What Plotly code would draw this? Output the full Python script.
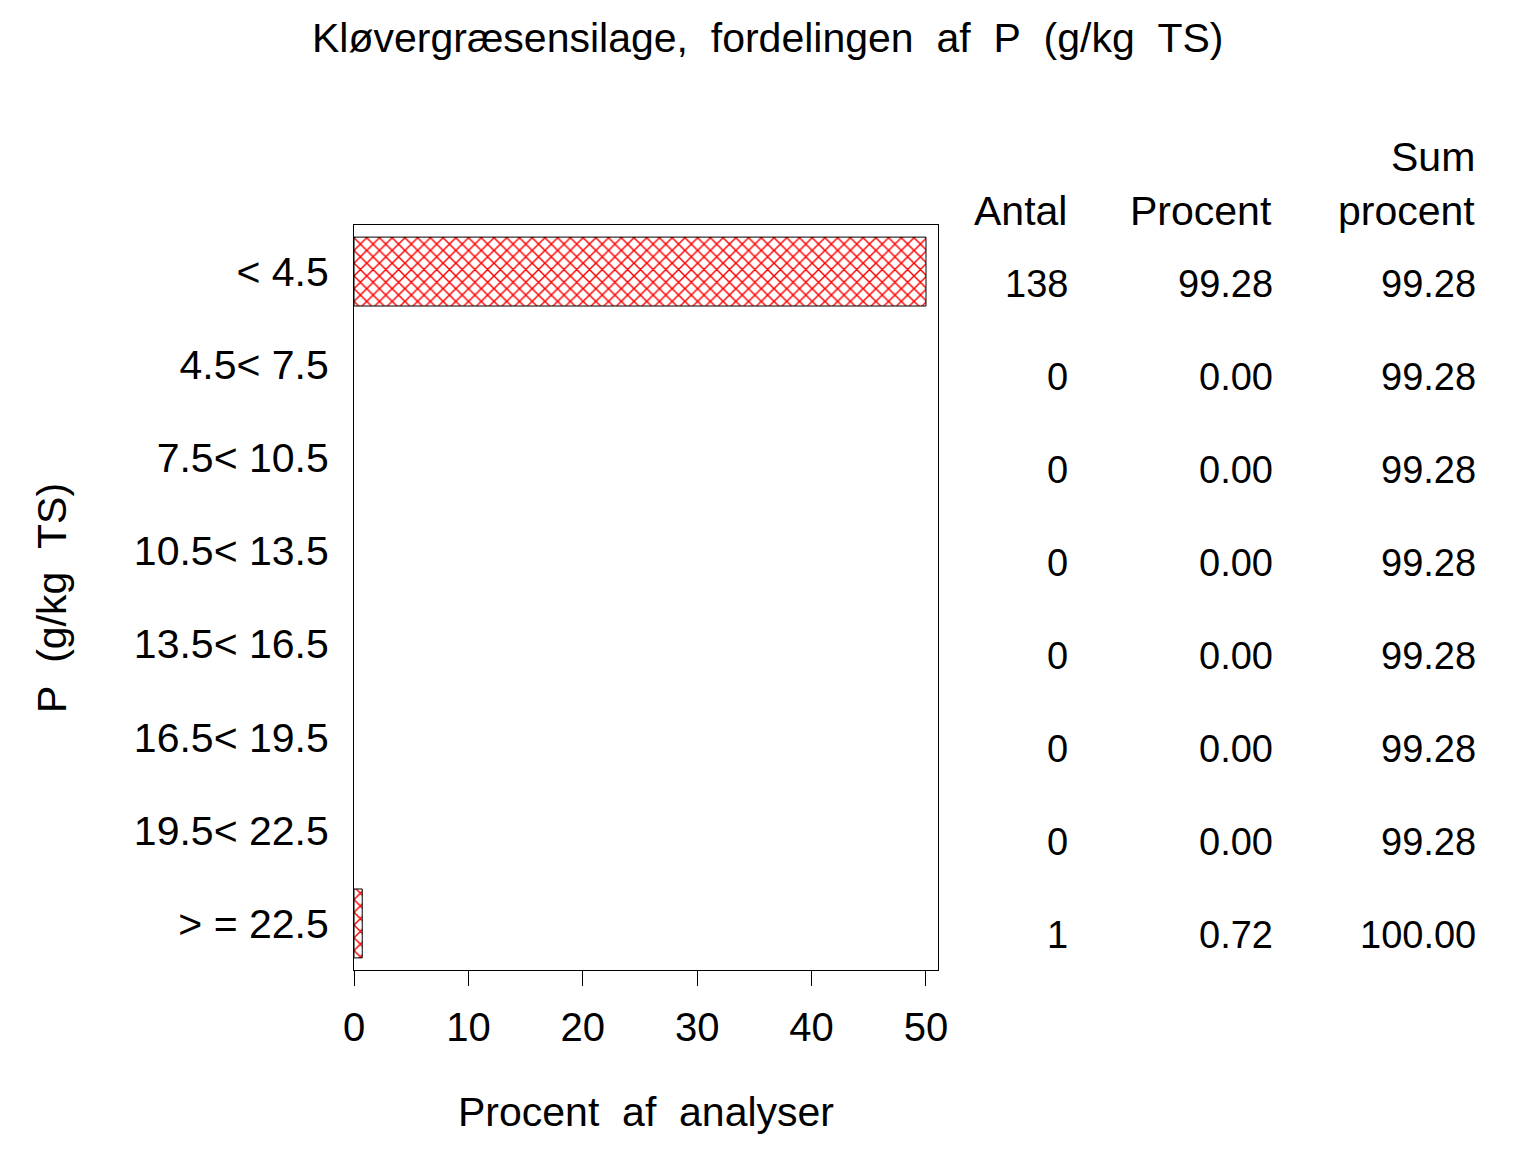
import numpy as np
import plotly.graph_objects as go

categories = ["< 4.5", "4.5< 7.5", "7.5< 10.5", "10.5< 13.5", "13.5< 16.5",
              "16.5< 19.5", "19.5< 22.5", "> = 22.5"]
antal = [138, 0, 0, 0, 0, 0, 0, 1]
procent = [99.28, 0.00, 0.00, 0.00, 0.00, 0.00, 0.00, 0.72]
sum_procent = [99.28, 99.28, 99.28, 99.28, 99.28, 99.28, 99.28, 100.00]
x_ticks = [0, 10, 20, 30, 40, 50]
x_max = 50

FONT = "Liberation Sans, Arial, sans-serif"
FS_NUM = 38
FS_TXT = 41

bar_len = np.minimum(np.array(procent), x_max)
line_w = [1 if v > 0 else 0 for v in procent]

fig = go.Figure()
fig.add_trace(go.Bar(
    y=categories, x=bar_len, orientation="h", width=0.74,
    marker=dict(color="white", line=dict(color="black", width=line_w),
                pattern=dict(shape="x", fgcolor="red", bgcolor="white",
                             size=9, solidity=0.3, fgopacity=1)),
    hoverinfo="skip", showlegend=False,
))

# reference plot area in pixels; page has an 8px offset
OFF = 8
L, R, T, B = 354, 938, 225, 970
W, H = R - L, B - T

def px_x(p):
    return (p - L) / W

def px_y(p):
    return (B - p) / H

ann = []
cols = [(1070, antal, "{:d}"), (1275, procent, "{:.2f}"), (1478, sum_procent, "{:.2f}")]
for xp, vals, fmt in cols:
    for c, v in zip(categories, vals):
        ann.append(dict(x=px_x(xp), xref="paper", y=c, yref="y", text=fmt.format(v),
                        xanchor="right", yanchor="middle", showarrow=False, yshift=-12,
                        font=dict(family=FONT, size=FS_NUM, color="black")))

headers = [(1069, 211, "Antal"), (1274, 211, "Procent"), (1477, 211, "procent"), (1477, 157, "Sum")]
for xp, yp, t in headers:
    ann.append(dict(x=px_x(xp), xref="paper", y=px_y(yp), yref="paper", text=t,
                    xanchor="right", yanchor="middle", showarrow=False,
                    font=dict(family=FONT, size=FS_TXT, color="black")))

ann.append(dict(x=px_x(768), xref="paper", y=px_y(38), yref="paper",
                text="Kløvergræsensilage,\u00a0\u00a0fordelingen\u00a0\u00a0af\u00a0\u00a0P\u00a0\u00a0(g/kg\u00a0\u00a0TS)",
                xanchor="center", yanchor="middle", showarrow=False,
                font=dict(family=FONT, size=FS_TXT, color="black")))
ann.append(dict(x=px_x(646), xref="paper", y=px_y(1112), yref="paper",
                text="Procent\u00a0\u00a0af\u00a0\u00a0analyser",
                xanchor="center", yanchor="middle", showarrow=False,
                font=dict(family=FONT, size=FS_TXT, color="black")))
ann.append(dict(x=px_x(52), xref="paper", y=px_y(598), yref="paper",
                text="P\u00a0\u00a0(g/kg\u00a0\u00a0TS)", textangle=-90,
                xanchor="center", yanchor="middle", showarrow=False,
                font=dict(family=FONT, size=FS_TXT, color="black")))

fig.update_layout(
    width=1536, height=1152,
    margin=dict(l=L - OFF, r=1536 - R + OFF, t=T - OFF, b=1152 - B + OFF, pad=0),
    paper_bgcolor="white", plot_bgcolor="white",
    font=dict(family=FONT, size=FS_NUM, color="black"),
    annotations=ann,
)
fig.update_xaxes(range=[0, 51.05], tickvals=x_ticks, ticks="outside", ticklen=15,
                 tickwidth=1, tickcolor="black", showline=True, linecolor="black",
                 linewidth=1, mirror=True, showgrid=False, zeroline=False,
                 ticklabelstandoff=7, tickfont=dict(family=FONT, size=40))
fig.update_yaxes(categoryorder="array", categoryarray=categories,
                 autorange=False, range=[7.5, -0.5], ticks="", showline=True,
                 linecolor="black", linewidth=1, mirror=True, showgrid=False,
                 zeroline=False, ticklabelstandoff=16,
                 tickfont=dict(family=FONT, size=FS_TXT))

fig.write_html("out.html")
